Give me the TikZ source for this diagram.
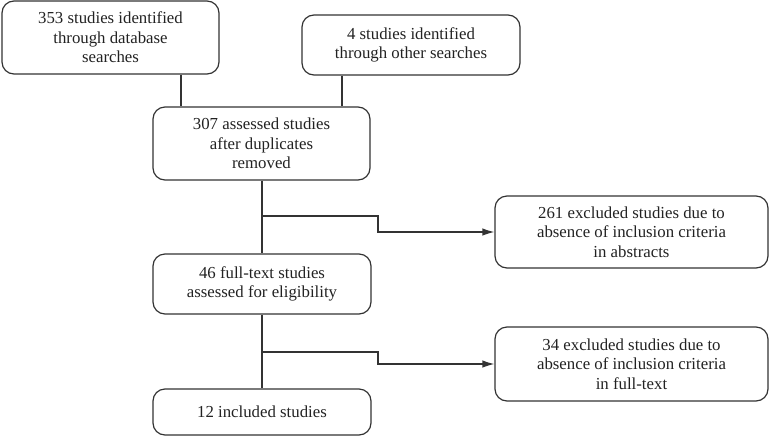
\documentclass[tikz,border=0pt]{standalone}
\usepackage{fontspec}
\setmainfont{Liberation Serif}
\usetikzlibrary{arrows.meta}
\definecolor{ln}{HTML}{333333}
\definecolor{tx}{HTML}{222222}
\begin{document}
\begin{tikzpicture}[x=1pt,y=1pt,
  box/.style={draw=ln, line width=1.2pt, rounded corners=12pt, align=center,
    inner sep=0pt, text=tx, font=\fontsize{16.8}{19.5}\selectfont},
  conn/.style={draw=ln, line width=1.2pt},
  arr/.style={conn, -{Latex[length=12pt,width=7.5pt]}}]
\useasboundingbox (0,0) rectangle (771,-437);
\node[box, minimum width=217, minimum height=73] (A) at (110.5,-37.5) {353 studies identified\\through database\\searches};
\node[box, minimum width=218, minimum height=60] (B) at (411,-45) {4 studies identified\\through other searches};
\node[box, minimum width=217, minimum height=73] (C) at (261.5,-143.5) {307 assessed studies\\after duplicates\\removed};
\node[box, minimum width=273, minimum height=72] (E) at (631.5,-232) {261 excluded studies due to\\absence of inclusion criteria\\in abstracts};
\node[box, minimum width=218, minimum height=60] (D) at (262,-284) {46 full-text studies\\assessed for eligibility};
\node[box, minimum width=273, minimum height=74] (F) at (631.5,-364) {34 excluded studies due to\\absence of inclusion criteria\\in full-text};
\node[box, minimum width=218, minimum height=46] (G) at (262,-412) {12 included studies};
\coordinate (aX) at (181,0);
\coordinate (bX) at (342,0);
\coordinate (j1) at (262,-216);
\coordinate (s1) at (378,-216);
\coordinate (j2) at (262,-352);
\coordinate (s2) at (378,-352);
\draw[conn] (A.south -| aX) -- (C.north -| aX);
\draw[conn] (B.south -| bX) -- (C.north -| bX);
\draw[conn] (C.south -| j1) -- (D.north -| j1);
\draw[conn] (D.south -| j2) -- (G.north -| j2);
\draw[arr] (j1) -- (s1) |- (E.west);
\draw[arr] (j2) -- (s2) |- (F.west);
\end{tikzpicture}
\end{document}
